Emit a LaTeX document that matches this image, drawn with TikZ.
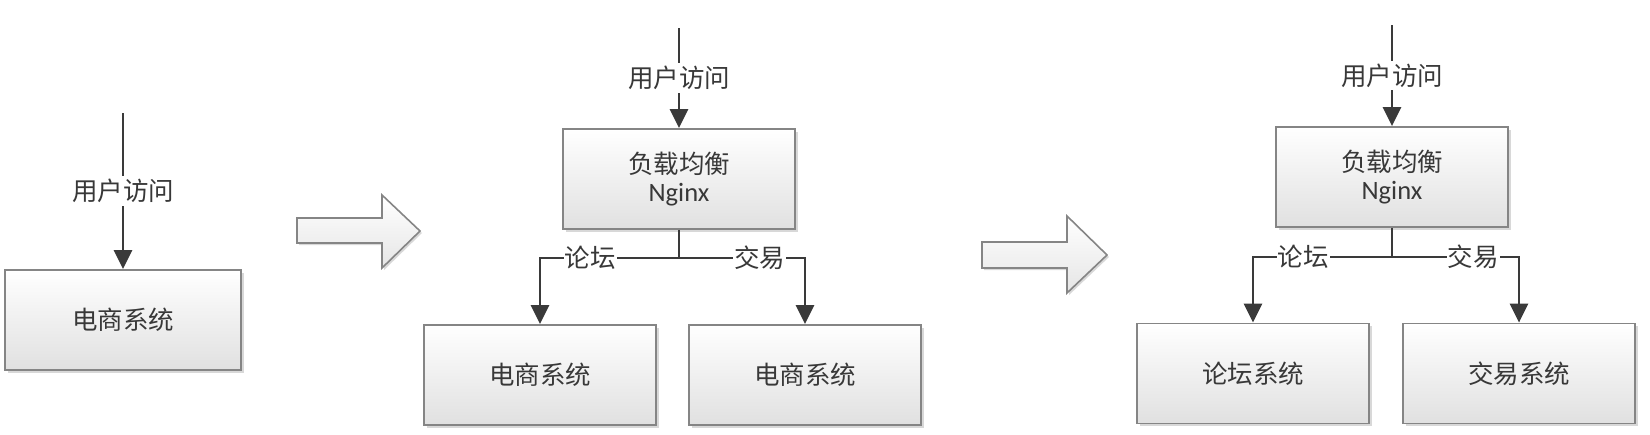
\documentclass[tikz,border=0pt]{standalone}
\usepackage{fontspec}
\setmainfont{Carlito}
\newfontfamily\cjk{Noto Sans CJK SC}
\usetikzlibrary{arrows.meta,shadows}
\definecolor{txt}{HTML}{383838}
\definecolor{ln}{HTML}{3A3A3A}
\definecolor{bd}{HTML}{858585}
\begin{document}
\begin{tikzpicture}[x=1pt,y=-1pt,
  every node/.style={font=\fontsize{25.5}{30}\selectfont\cjk, text=txt},
  sysbox/.style={draw=bd, line width=1.8pt, rectangle, minimum width=232pt, minimum height=100pt,
     top color=white, bottom color=black!12, inner sep=0pt,
     drop shadow={shadow xshift=2.5pt, shadow yshift=-2.5pt, fill=black!25, opacity=0.6}},
  conn/.style={draw=ln, line width=2.8pt, -{Triangle[length=19pt,width=18pt]}},
  wire/.style={draw=ln, line width=2.8pt},
  lbl/.style={fill=white, inner sep=3pt},
  blockarrow/.style={draw=bd, line width=1.6pt, top color=white, bottom color=black!10, line join=miter,
     drop shadow={shadow xshift=2pt, shadow yshift=-2pt, fill=black!25, opacity=0.6}}
]
\useasboundingbox (0,0) rectangle (1650,434);
\fill[white] (0,0) rectangle (1650,434);

% panel 1
\coordinate (top1) at (123,113);
\node[sysbox, minimum width=236pt] (box1) at (123,320) {电商系统};
\draw[conn] (top1) -- node[lbl]{用户访问} (box1.north);

% block arrow 1
\draw[blockarrow] (297,218) -- (382,218) -- (382,195) -- (420,231) -- (382,268) -- (382,243) -- (297,243) -- cycle;

% panel 2
\coordinate (top2) at (679,28);
\node[sysbox, align=center] (lb2) at (679,179) {负载均衡\\[-2pt]{\fontspec{Carlito}\fontsize{26.5}{30}\selectfont Nginx}};
\draw[conn] (top2) -- node[lbl]{用户访问} (lb2.north);
\coordinate (split2) at (679,258);
\node[sysbox] (a2) at (540,375) {电商系统};
\node[sysbox] (b2) at (805,375) {电商系统};
\draw[wire] (lb2.south) -- (split2);
\draw[conn] (split2) -| node[lbl, pos=0.32, inner xsep=1pt]{论坛} (a2.north);
\draw[conn] (split2) -| node[lbl, pos=0.32, inner xsep=1pt]{交易} (b2.north);

% block arrow 2
\draw[blockarrow] (982,242) -- (1067,242) -- (1067,216) -- (1107,255) -- (1067,293) -- (1067,268) -- (982,268) -- cycle;

% panel 3
\coordinate (top3) at (1392,25);
\node[sysbox, align=center] (lb3) at (1392,177) {负载均衡\\[-2pt]{\fontspec{Carlito}\fontsize{26.5}{30}\selectfont Nginx}};
\draw[conn] (top3) -- node[lbl]{用户访问} (lb3.north);
\coordinate (split3) at (1392,257);
\node[sysbox] (a3) at (1253,373.5) {论坛系统};
\node[sysbox] (b3) at (1519,373.5) {交易系统};
\draw[wire] (lb3.south) -- (split3);
\draw[conn] (split3) -| node[lbl, pos=0.32, inner xsep=1pt]{论坛} (a3.north);
\draw[conn] (split3) -| node[lbl, pos=0.32, inner xsep=1pt]{交易} (b3.north);
\end{tikzpicture}
\end{document}
